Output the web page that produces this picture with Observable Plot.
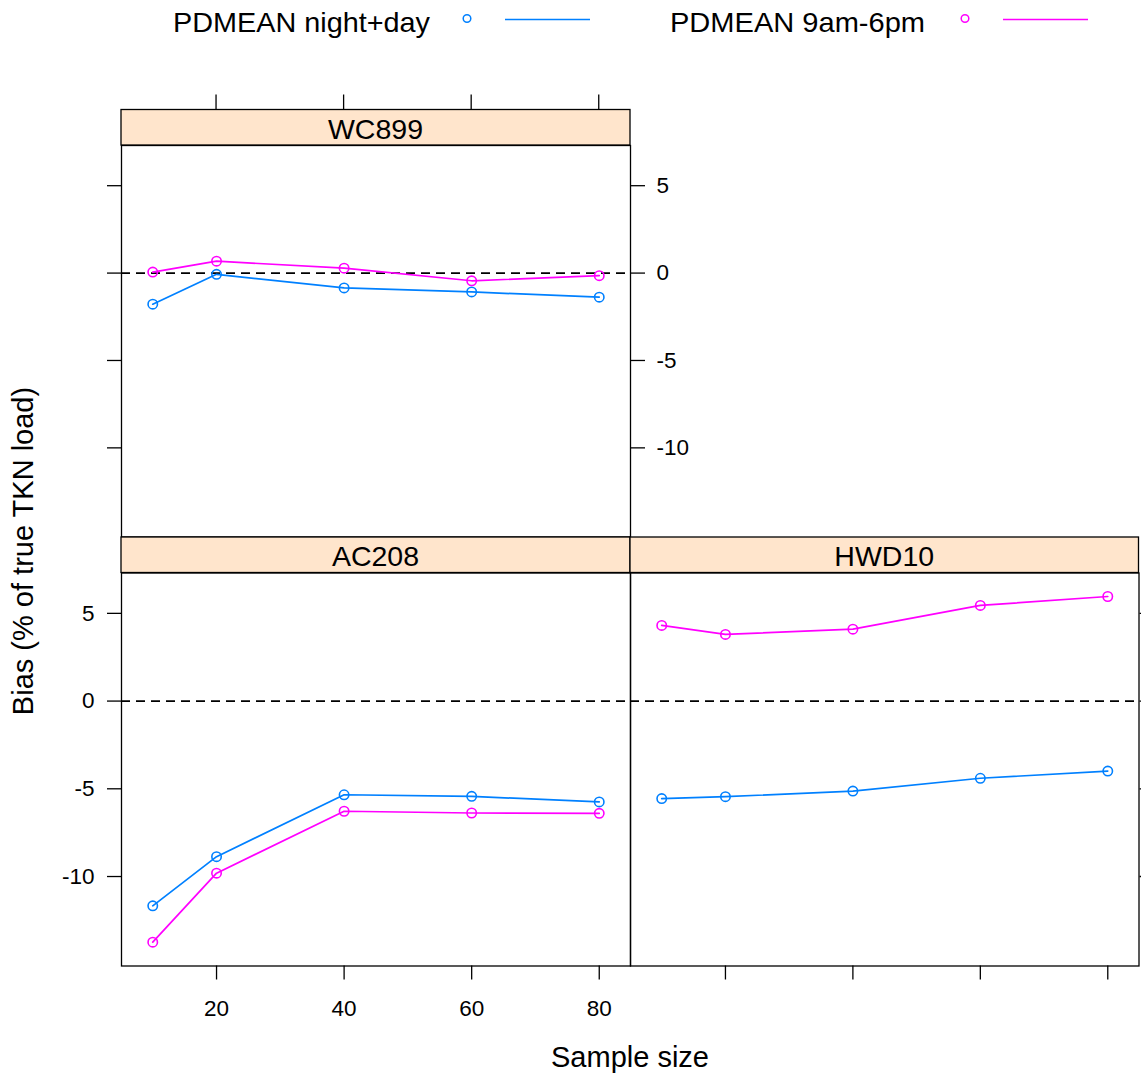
<!DOCTYPE html>
<html><head><meta charset="utf-8">
<script src="https://cdn.jsdelivr.net/npm/d3@7"></script>
<script src="https://cdn.jsdelivr.net/npm/@observablehq/plot@0.6"></script>
<style>
body{margin:0;background:#fff;}
#chart{position:relative;width:1141px;height:1073px;overflow:hidden;background:#fff;font-family:"Liberation Sans",Arial,sans-serif;}
#chart svg{position:absolute;left:0;top:0;}
</style></head><body><div id="chart"></div>
<script>
// ---- data ----
const sampleSize = [10, 20, 40, 60, 80];
const seriesNames = ["PDMEAN night+day", "PDMEAN 9am-6pm"];
const seriesColors = ["#0080ff", "#ff00ff"];
const panelNames = ["WC899", "AC208", "HWD10"];
const wc899NightDay = [-1.78, -0.07, -0.85, -1.08, -1.38];
const wc899Day      = [0.06, 0.68, 0.28, -0.44, -0.15];
const ac208NightDay = [-11.67, -8.87, -5.34, -5.43, -5.75];
const ac208Day      = [-13.74, -9.81, -6.28, -6.38, -6.40];
const hwd10NightDay = [-5.56, -5.45, -5.13, -4.40, -3.99];
const hwd10Day      = [4.31, 3.80, 4.10, 5.45, 5.96];
const xTicks = [20, 40, 60, 80];
const yTicks = [-10, -5, 0, 5];
const xLabel = "Sample size";
const yLabel = "Bias (% of true TKN load)";

function rows(nd, dy) {
  const out = [];
  sampleSize.forEach((n, i) => out.push({n, bias: nd[i], series: seriesNames[0]}));
  sampleSize.forEach((n, i) => out.push({n, bias: dy[i], series: seriesNames[1]}));
  return out;
}
const panelData = {
  WC899: rows(wc899NightDay, wc899Day),
  AC208: rows(ac208NightDay, ac208Day),
  HWD10: rows(hwd10NightDay, hwd10Day)
};

const W = 1141, H = 1073;
const FONT = '"Liberation Sans", Arial, sans-serif';
const STRIP_H = 35.5;
const TICK = 14;
const fmt = d => String(d);

function stripMark(label, topTicks) {
  return (index, scales, values, dims) => {
    const g = d3.create("svg:g");
    const x0 = dims.marginLeft, x1 = dims.width - dims.marginRight, y1 = dims.marginTop;
    g.append("rect").attr("x", x0).attr("y", y1 - STRIP_H).attr("width", x1 - x0).attr("height", STRIP_H)
      .attr("fill", "#FFE5CC").attr("stroke", "#000").attr("stroke-width", 1.3);
    g.append("text").attr("x", (x0 + x1) / 2).attr("y", y1 - STRIP_H / 2).attr("dy", "0.40em")
      .attr("text-anchor", "middle").attr("font-size", 28.5).attr("fill", "#000").attr("font-family", FONT).text(label);
    if (topTicks) {
      for (const t of xTicks) {
        const x = scales.x(t);
        g.append("line").attr("x1", x).attr("x2", x).attr("y1", y1 - STRIP_H).attr("y2", y1 - STRIP_H - 15)
          .attr("stroke", "#000").attr("stroke-width", 1.3);
      }
    }
    return g.node();
  };
}

function panel(name, margins, axes) {
  const data = panelData[name];
  return Plot.plot({
    width: W, height: H,
    ...margins,
    style: {background: "transparent", color: "#000", fontFamily: FONT, overflow: "visible"},
    x: {domain: [5.1, 84.9], axis: null},
    y: {domain: [-15.1, 7.3], axis: null},
    color: {domain: seriesNames, range: seriesColors},
    marks: [
      Plot.ruleY([0], {stroke: "#000", strokeWidth: 1.7, strokeDasharray: "9,6"}),
      Plot.line(data, {x: "n", y: "bias", z: "series", stroke: "series", strokeWidth: 1.7}),
      Plot.dot(data, {x: "n", y: "bias", stroke: "series", r: 4.7, strokeWidth: 1.6, fill: "none"}),
      Plot.frame({stroke: "#000", strokeWidth: 1.3}),
      stripMark(name, axes.topTicks),
      ...axes.marks
    ]
  });
}

const noFmt = () => "";
const chart = document.getElementById("chart");

// top-left: WC899
chart.appendChild(panel("WC899",
  {marginLeft: 121, marginRight: W - 630, marginTop: 145, marginBottom: H - 536.5},
  {topTicks: true, marks: [
    Plot.axisY({anchor: "left", ticks: yTicks, tickSize: TICK, tickFormat: noFmt, label: null, strokeWidth: 1.3}),
    Plot.axisY({anchor: "right", ticks: yTicks, tickSize: TICK, tickPadding: 12, tickFormat: fmt, fontSize: 22.5, label: null, strokeWidth: 1.3})
  ]}));

// bottom-left: AC208
chart.appendChild(panel("AC208",
  {marginLeft: 121, marginRight: W - 630, marginTop: 572.5, marginBottom: H - 965.5},
  {topTicks: false, marks: [
    Plot.axisY({anchor: "left", ticks: yTicks, tickSize: TICK, tickPadding: 13, tickFormat: fmt, fontSize: 22.5, label: null, strokeWidth: 1.3}),
    Plot.axisX({anchor: "bottom", ticks: xTicks, tickSize: TICK, tickPadding: 20, tickFormat: fmt, fontSize: 22.5, label: null, strokeWidth: 1.3})
  ]}));

// bottom-right: HWD10
chart.appendChild(panel("HWD10",
  {marginLeft: 630, marginRight: W - 1138.5, marginTop: 572.5, marginBottom: H - 965.5},
  {topTicks: false, marks: [
    Plot.axisY({anchor: "right", ticks: yTicks, tickSize: TICK, tickFormat: noFmt, label: null, strokeWidth: 1.3}),
    Plot.axisX({anchor: "bottom", ticks: xTicks, tickSize: TICK, tickFormat: noFmt, label: null, strokeWidth: 1.3})
  ]}));

// legend + axis titles
const svg = d3.select(chart).append("svg").attr("width", W).attr("height", H)
  .attr("font-family", FONT).style("pointer-events", "none");
const legendItems = [
  {textX: 173, ptX: 467, lineX0: 505, lineX1: 590},
  {textX: 670, ptX: 965, lineX0: 1003, lineX1: 1088}
];
legendItems.forEach((it, i) => {
  svg.append("text").attr("x", it.textX).attr("y", 22).attr("dy", "0.36em").attr("font-size", 28.5)
    .attr("textLength", i === 0 ? 257 : 255).attr("lengthAdjust", "spacingAndGlyphs")
    .attr("fill", "#000").text(seriesNames[i]);
  svg.append("circle").attr("cx", it.ptX).attr("cy", 18.5).attr("r", 3.8).attr("fill", "none")
    .attr("stroke", seriesColors[i]).attr("stroke-width", 1.5);
  svg.append("line").attr("x1", it.lineX0).attr("x2", it.lineX1).attr("y1", 19.5).attr("y2", 19.5)
    .attr("stroke", seriesColors[i]).attr("stroke-width", 1.7);
});
svg.append("text").attr("x", 630).attr("y", 1057).attr("dy", "0.36em").attr("text-anchor", "middle")
  .attr("font-size", 29).attr("fill", "#000").text(xLabel);
svg.append("text").attr("transform", "translate(23,551) rotate(-90)").attr("dy", "0.36em")
  .attr("text-anchor", "middle").attr("font-size", 29).attr("fill", "#000").text(yLabel);
</script></body></html>
